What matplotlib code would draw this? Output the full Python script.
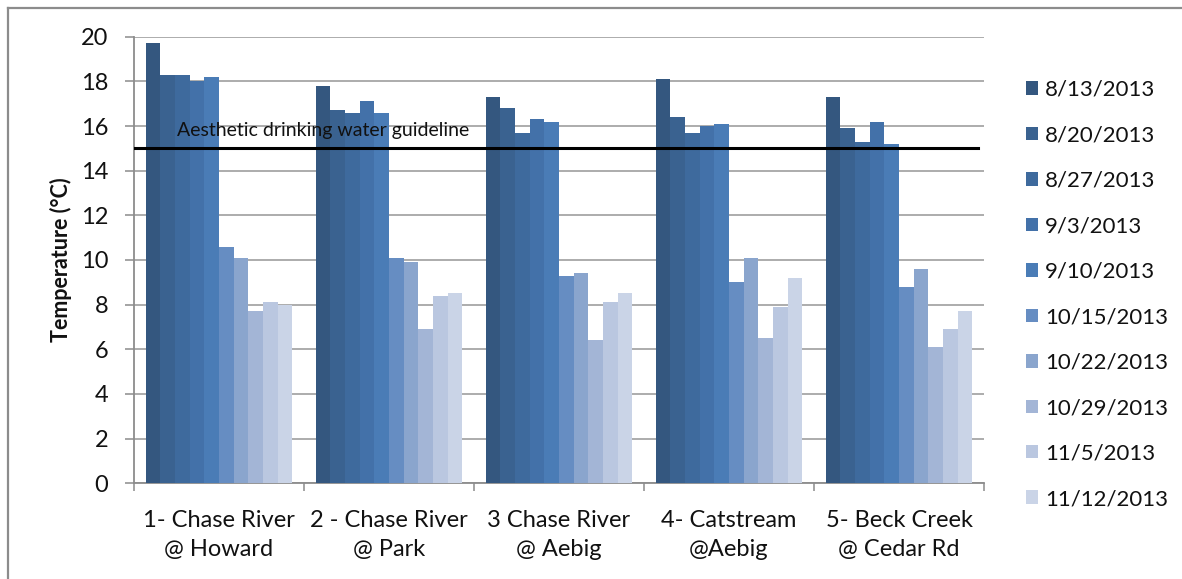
import matplotlib
matplotlib.use("Agg")
import matplotlib.pyplot as plt
from matplotlib.lines import Line2D
import numpy as np

plt.rcParams['font.family'] = ['Lato', 'DejaVu Sans']

sites = ["1- Chase River\n@ Howard", "2 - Chase River\n@ Park", "3 Chase River\n@ Aebig",
         "4- Catstream\n@Aebig", "5- Beck Creek\n@ Cedar Rd"]
dates = ["8/13/2013", "8/20/2013", "8/27/2013", "9/3/2013", "9/10/2013",
         "10/15/2013", "10/22/2013", "10/29/2013", "11/5/2013", "11/12/2013"]
# values per date (series), one entry per site
d_0813 = [19.7, 17.8, 17.3, 18.1, 17.3]
d_0820 = [18.3, 16.7, 16.8, 16.4, 15.9]
d_0827 = [18.3, 16.6, 15.7, 15.7, 15.3]
d_0903 = [18.0, 17.1, 16.3, 16.0, 16.2]
d_0910 = [18.2, 16.6, 16.2, 16.1, 15.2]
d_1015 = [10.6, 10.1, 9.3, 9.0, 8.8]
d_1022 = [10.1, 9.9, 9.4, 10.1, 9.6]
d_1029 = [7.7, 6.9, 6.4, 6.5, 6.1]
d_1105 = [8.1, 8.4, 8.1, 7.9, 6.9]
d_1112 = [8.0, 8.5, 8.5, 9.2, 7.7]
series = [d_0813, d_0820, d_0827, d_0903, d_0910, d_1015, d_1022, d_1029, d_1105, d_1112]
guideline = 15
guideline_label = "Aesthetic drinking water guideline"
yticks = [0, 2, 4, 6, 8, 10, 12, 14, 16, 18, 20]

colors = ["#34577F", "#3A6290", "#3E6A9D", "#4371A9", "#4A7CB6",
          "#668DC2", "#8AA5CD", "#A3B5D6", "#BAC7E0", "#CAD4E7"]

W, H = 1182, 579
fig = plt.figure(figsize=(W / 100, H / 100), dpi=100)
ax = fig.add_axes([134 / W, 1 - 483.3 / H, (984 - 134) / W, (483.3 - 36.7) / H])

n = len(series)
total = 0.862
bw = total / n
x = np.arange(len(sites))
for i, (vals, c, lab) in enumerate(zip(series, colors, dates)):
    ax.bar(x - total / 2 + bw * (i + 0.5), vals, width=bw, color=c, label=lab,
           linewidth=0, zorder=3)

ax.plot([-0.5, 4.465], [guideline, guideline], color="black", lw=2.2, zorder=4)
ax.text(-0.245, guideline + 0.78, guideline_label, fontsize=14, ha="left", va="center",
        zorder=5, color="#111111")

ax.set_xlim(-0.5, 4.5)
ax.set_ylim(0, 20)
ax.set_yticks(yticks)
ax.set_yticklabels([str(v) for v in yticks], fontsize=17)
ax.yaxis.grid(True, color="#A6A6A6", lw=1.3, zorder=0)
ax.set_axisbelow(True)
ax.tick_params(axis="y", length=6.5, width=1.1, color="#8C8C8C", pad=12, labelcolor="#111111")

ax.set_xticks(np.arange(-0.5, 4.51, 1.0))
ax.set_xticklabels([])
ax.set_xticks(x, minor=True)
ax.set_xticklabels(sites, minor=True, fontsize=17, linespacing=1.5, color="#111111")
ax.tick_params(axis="x", which="major", length=6, width=1.1, color="#8C8C8C")
ax.tick_params(axis="x", which="minor", length=0, pad=19)

for s in ["top", "right"]:
    ax.spines[s].set_visible(False)
for s in ["left", "bottom"]:
    ax.spines[s].set_color("#8C8C8C")
    ax.spines[s].set_linewidth(1.3)

ax.set_ylabel("Temperature (°C)", fontsize=15.5, fontweight="bold", labelpad=6, color="#111111")

leg = fig.legend(loc="upper left", bbox_to_anchor=(1026 / W, 1 - 80 / H), frameon=False,
                 fontsize=16, handlelength=0.55, handleheight=0.55, handletextpad=0.3,
                 labelspacing=1.145, borderaxespad=0, borderpad=0)
for t in leg.get_texts():
    t.set_color("#111111")

# outer frame
fig.add_artist(Line2D([8 / W, 8 / W], [0, 1 - 8 / H], transform=fig.transFigure,
                      color="#8C8C8C", lw=1.6))
fig.add_artist(Line2D([8 / W, 1], [1 - 8 / H, 1 - 8 / H], transform=fig.transFigure,
                      color="#8C8C8C", lw=1.6))

fig.savefig("out.png", dpi=100)
